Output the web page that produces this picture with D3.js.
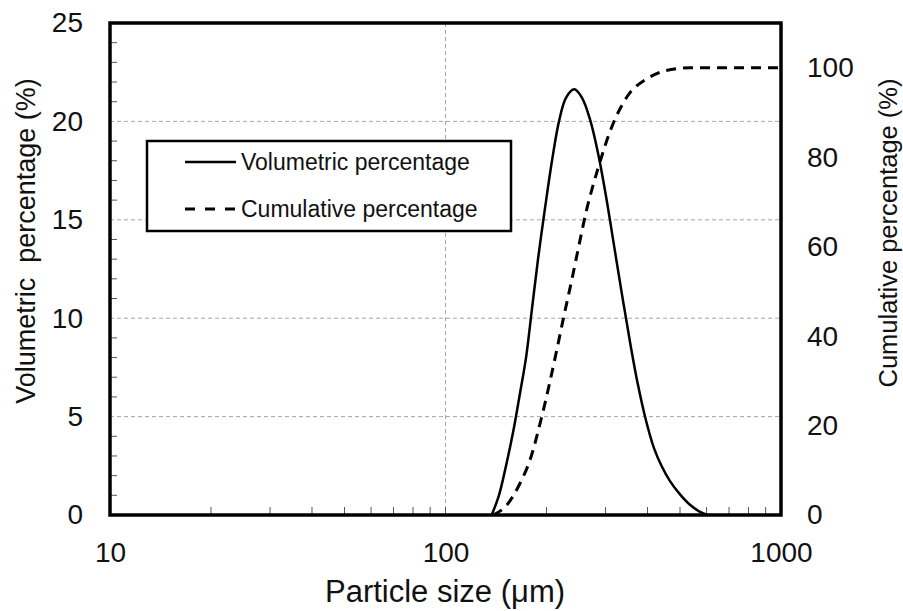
<!DOCTYPE html>
<html><head><meta charset="utf-8">
<script src="https://cdn.jsdelivr.net/npm/d3@7"></script>
<style>
html,body{margin:0;padding:0;background:#fff;}
text{font-family:Arial,"Liberation Sans",sans-serif;fill:#111;}
</style></head>
<body>
<svg id="chart" width="903" height="611"></svg>
<script>
// ---- data ----
const volSize = [137.3,144.3,151.5,159.0,166.8,173.8,181.1,188.7,198.0,207.7,217.9,228.6,242.0,255.2,269.6,284.8,300.9,317.9,335.8,354.7,374.8,395.9,418.2,441.8,466.8,500.0,535.5,573.5,605.8];
const volPct  = [0,1.0,2.5,4.2,6.2,8.0,10.5,13.0,15.6,18.0,20.0,21.2,21.63,21.2,20.1,18.4,16.2,13.7,11.2,8.8,6.6,4.8,3.4,2.45,1.72,1.05,0.52,0.16,0];
const cumSize = [138.8,152.2,166.8,178.6,193.5,214.5,224.5,237.8,251.7,262.0,285.4,312.8,346.8,397.8,451.1,535.6,1000];
const cumPct  = [0,2.2,7.1,12.3,21.9,36.8,43.9,52.5,61.4,67.5,77.7,86.7,93.4,97.5,99.3,100,100];
const xTicks = [10,100,1000];
const xMinor = [20,30,40,50,60,70,80,90,100,200,300,400,500,600,700,800,900];
const yLeftTicks = [0,5,10,15,20,25];
const yLeftMinor = [1,2,3,4,6,7,8,9,11,12,13,14,16,17,18,19,21,22,23,24];
const yRightTicks = [0,20,40,60,80,100];
const gridY = [5,10,15,20];
const gridX = [100];
const legendLabels = ["Volumetric percentage","Cumulative percentage"];

// ---- layout ----
const svg = d3.select("#chart");
const L = 110, T = 23, R = 781, B = 515;
const x = d3.scaleLog().domain([10,1000]).range([L,R]);
const yL = d3.scaleLinear().domain([0,25]).range([B,T]);
const yR = d3.scaleLinear().domain([0,110]).range([B,T]);

// grid
svg.append("g").selectAll("line").data(gridY).join("line")
  .attr("x1",L).attr("x2",R).attr("y1",d=>yL(d)).attr("y2",d=>yL(d))
  .attr("stroke","#a6a6a6").attr("stroke-width",1).attr("stroke-dasharray","4,3");
svg.append("g").selectAll("line").data(gridX).join("line")
  .attr("x1",d=>x(d)).attr("x2",d=>x(d)).attr("y1",T).attr("y2",B)
  .attr("stroke","#a6a6a6").attr("stroke-width",1).attr("stroke-dasharray","4,3");

// minor ticks
svg.append("g").selectAll("line").data(yLeftMinor).join("line")
  .attr("x1",L).attr("x2",L+7).attr("y1",d=>yL(d)).attr("y2",d=>yL(d))
  .attr("stroke","#555").attr("stroke-width",1);
svg.append("g").selectAll("line").data(xMinor).join("line")
  .attr("x1",d=>x(d)).attr("x2",d=>x(d)).attr("y1",B).attr("y2",B-8)
  .attr("stroke","#555").attr("stroke-width",1);

// axes labels via d3 axes
const axL = svg.append("g").attr("transform",`translate(${L},0)`)
  .call(d3.axisLeft(yL).tickValues(yLeftTicks).tickSize(0).tickPadding(27).tickFormat(d3.format("d")));
const axR = svg.append("g").attr("transform",`translate(${R},0)`)
  .call(d3.axisRight(yR).tickValues(yRightTicks).tickSize(0).tickPadding(26).tickFormat(d3.format("d")));
const axB = svg.append("g").attr("transform",`translate(0,${B})`)
  .call(d3.axisBottom(x).tickValues(xTicks).tickSize(0).tickPadding(27).tickFormat(d3.format("d")));
[axL,axR,axB].forEach(a=>{a.select(".domain").remove();
  a.selectAll("text").style("font-size","28px").style("font-family","Arial, 'Liberation Sans', sans-serif").attr("fill","#111");});

// curves
const lineV = d3.line().x(d=>x(d[0])).y(d=>yL(d[1])).curve(d3.curveCatmullRom.alpha(0.5));
const lineC = d3.line().x(d=>x(d[0])).y(d=>yR(d[1])).curve(d3.curveMonotoneX);
svg.append("path").datum(volSize.map((s,i)=>[s,volPct[i]])).attr("d",lineV)
  .attr("fill","none").attr("stroke","#000").attr("stroke-width",2.5);
svg.append("path").datum(cumSize.map((s,i)=>[s,cumPct[i]])).attr("d",lineC)
  .attr("fill","none").attr("stroke","#000").attr("stroke-width",3).attr("stroke-dasharray","10,7");

// frame
svg.append("rect").attr("x",L).attr("y",T).attr("width",R-L).attr("height",B-T)
  .attr("fill","none").attr("stroke","#000").attr("stroke-width",3.5);

// axis titles
svg.append("text").attr("x",445).attr("y",602).attr("text-anchor","middle")
  .style("font-size","31px").text("Particle size (μm)");
svg.append("text").attr("transform","translate(35,241) rotate(-90)").attr("text-anchor","middle")
  .style("font-size","27px").style("white-space","pre").text("Volumetric  percentage (%)");
svg.append("text").attr("transform","translate(897,233) rotate(-90)").attr("text-anchor","middle")
  .style("font-size","25.5px").text("Cumulative percentage (%)");

// legend
const lg = svg.append("g");
lg.append("rect").attr("x",147).attr("y",141).attr("width",364).attr("height",90)
  .attr("fill","#fff").attr("stroke","#000").attr("stroke-width",2.5);
const dashes = [null,"10,10"];
legendLabels.forEach((t,i)=>{
  const yy = 162 + i*47;
  lg.append("line").attr("x1",185).attr("x2",236).attr("y1",yy).attr("y2",yy)
    .attr("stroke","#000").attr("stroke-width",i?3:2.5).attr("stroke-dasharray",dashes[i]);
  lg.append("text").attr("x",241).attr("y",yy).attr("dy","0.36em")
    .style("font-size","23px").text(t);
});
</script>
</body></html>
